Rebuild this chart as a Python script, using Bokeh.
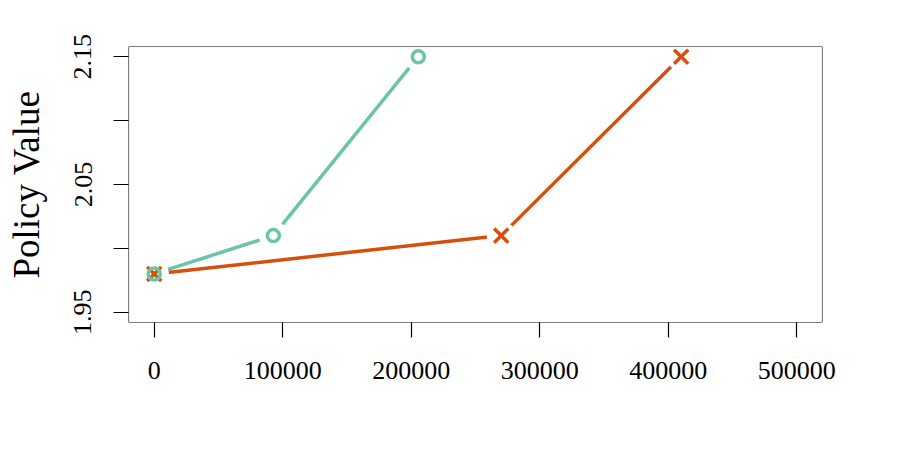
from bokeh.plotting import figure
from bokeh.models import Range1d, FixedTicker, BoxAnnotation
from bokeh.embed import file_html
from bokeh.resources import INLINE

# Data
teal_x = [0, 92700, 205500]
teal_y = [1.98, 2.01, 2.15]
orange_x = [0, 270000, 410000]
orange_y = [1.98, 2.01, 2.15]

x_ticks = [0, 100000, 200000, 300000, 400000, 500000]
x_tick_labels = ["0", "100000", "200000", "300000", "400000", "500000"]
y_ticks = [1.95, 2.00, 2.05, 2.10, 2.15]
y_tick_labels = ["1.95", "", "2.05", "", "2.15"]
y_title = "Policy Value"

TEAL = "#6CC4A8"
ORANGE = "#D4500E"
FONT = "Liberation Serif"

p = figure(width=892, height=440, output_backend="svg", toolbar_location=None,
           x_range=Range1d(-20000, 520000), y_range=Range1d(1.942, 2.158),
           min_border_left=128, min_border_right=70, min_border_top=46, min_border_bottom=118)
p.grid.visible = False
p.outline_line_color = None
p.background_fill_color = "white"
p.border_fill_color = "white"

for ax in (p.xaxis[0], p.yaxis[0]):
    ax.axis_line_color = None
    ax.major_tick_out = 15
    ax.major_tick_in = 0
    ax.major_tick_line_color = "black"
    ax.major_tick_line_width = 1.2
    ax.minor_tick_line_color = None
    ax.major_label_text_font = FONT
    ax.major_label_text_font_size = "26px"
    ax.major_label_text_color = "black"

p.xaxis.ticker = FixedTicker(ticks=x_ticks)
p.xaxis.major_label_overrides = {t: l for t, l in zip(x_ticks, x_tick_labels)}
p.xaxis.major_label_standoff = 24

p.yaxis.ticker = FixedTicker(ticks=y_ticks)
p.yaxis.major_label_overrides = {t: l for t, l in zip(y_ticks, y_tick_labels)}
p.yaxis.major_label_orientation = "vertical"
p.yaxis.major_label_standoff = 22
p.yaxis.axis_label = y_title
p.yaxis.axis_label_text_font = FONT
p.yaxis.axis_label_text_font_size = "37px"
p.yaxis.axis_label_text_font_style = "normal"
p.yaxis.axis_label_text_color = "black"
p.yaxis.axis_label_standoff = 25

# lines
p.line(teal_x, teal_y, line_color=TEAL, line_width=3.5)
p.line(orange_x, orange_y, line_color=ORANGE, line_width=3.5)
# gaps around points (type="b")
p.scatter(teal_x + orange_x, teal_y + orange_y, marker="circle", size=29,
          fill_color="white", line_color=None)
# markers
p.scatter(orange_x, orange_y, marker="x", size=20, line_color=ORANGE, line_width=3.5)
p.scatter(teal_x, teal_y, marker="circle", size=12, fill_color=None,
          line_color=TEAL, line_width=3.5)

# plot box drawn on top
p.add_layout(BoxAnnotation(fill_alpha=0, line_color="black", line_alpha=1.0,
                           line_width=1.2, level="overlay"))

open("out.html", "w").write(file_html(p, INLINE))
